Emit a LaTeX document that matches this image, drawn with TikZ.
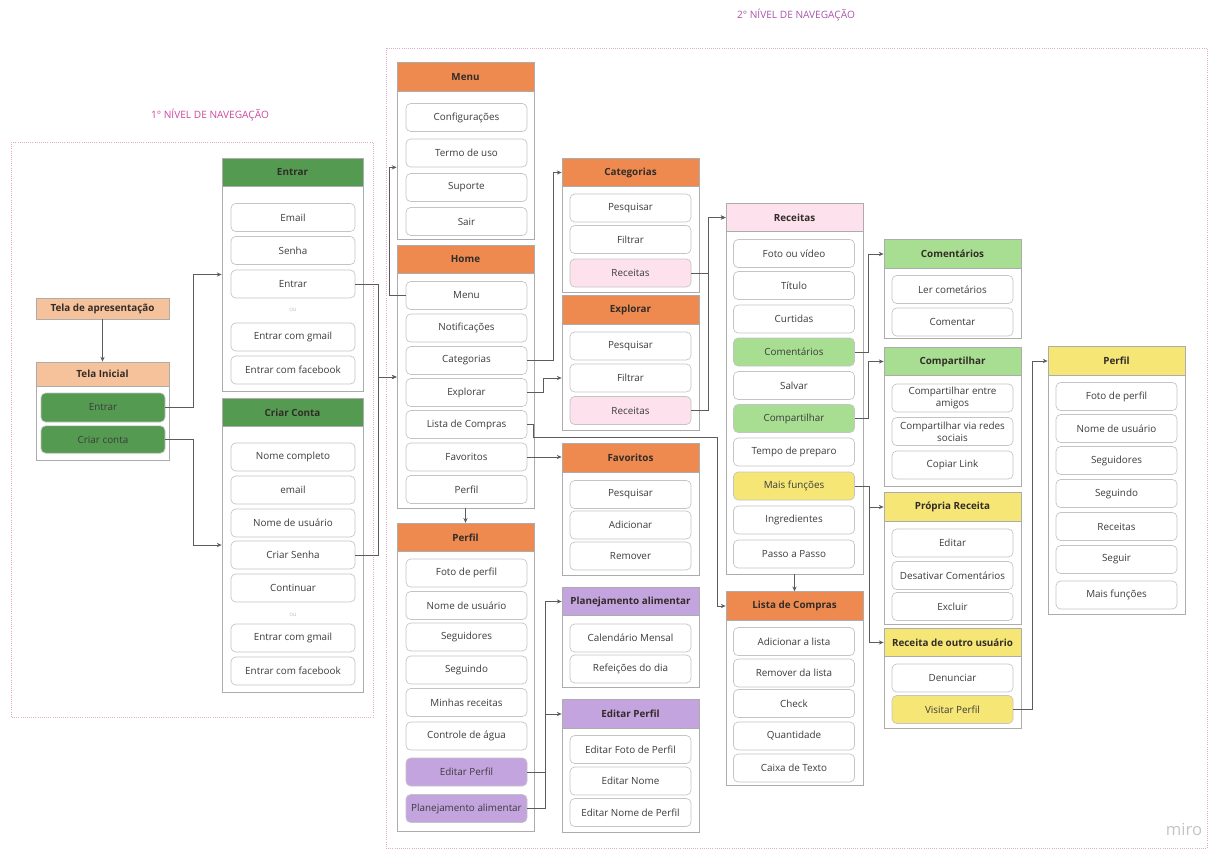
\documentclass[tikz,border=0pt]{standalone}
\usepackage{fontspec}
\setmainfont{Open Sans}
\usetikzlibrary{arrows.meta,fit}

\definecolor{hdorange}{RGB}{238,138,80}
\definecolor{hdgreen}{RGB}{84,154,80}
\definecolor{hdpeach}{RGB}{245,194,156}
\definecolor{hdpink}{RGB}{253,225,236}
\definecolor{hdlime}{RGB}{168,222,146}
\definecolor{hdyellow}{RGB}{246,230,117}
\definecolor{hdpurple}{RGB}{196,164,222}
\definecolor{cardgray}{RGB}{172,172,172}
\definecolor{itemgray}{RGB}{196,196,196}
\definecolor{linkgray}{RGB}{92,92,92}
\definecolor{itemtxt}{RGB}{60,60,60}
\definecolor{headtxt}{RGB}{50,44,40}
\definecolor{framepink}{RGB}{226,170,206}
\definecolor{navpink}{RGB}{204,70,155}
\definecolor{navpurple}{RGB}{168,84,170}
\definecolor{mirogray}{RGB}{196,196,196}

\begin{document}
\begin{tikzpicture}[x=0.75pt,y=-0.75pt,
  font=\fontsize{7.4}{8.8}\selectfont,
  navframe/.style={draw=framepink, densely dotted, line width=0.6pt},
  navtitle/.style={font=\fontsize{7.6}{9}\selectfont},
  card/.style={draw=cardgray, fill=white, inner sep=0pt, line width=0.6pt},
  head/.style={draw=cardgray, line width=0.6pt, minimum width=102.75pt, minimum height=21.5pt, inner sep=0pt, text=headtxt, font=\fontsize{7.4}{8.8}\selectfont\bfseries},
  item/.style={draw=itemgray, fill=white, rounded corners=3.5pt, line width=0.5pt, minimum width=90.75pt, minimum height=21pt, inner sep=0pt, align=center, text=itemtxt},
  wideitem/.style={item, minimum width=93pt},
  orlabel/.style={text=itemgray, font=\fontsize{4.6}{5}\selectfont},
  link/.style={draw=linkgray, line width=0.6pt, -{Stealth[length=3.6pt,width=3.2pt]}},
]
\useasboundingbox (0,0) rectangle (1212,850);

% 1o nivel
\draw[navframe] (11,142) rectangle (373,717);
\node[navtitle, text=navpink] (nav1) at (210,115) {1° NÍVEL DE NAVEGAÇÃO};

\node[head, fill=hdpeach, minimum width=99.75pt, minimum height=15.75pt] (apres) at (102.5,308.5) {Tela de apresentação};

\node[card, fit={(36,362)(169,460)}] (iniC) {};
\node[head, fill=hdpeach, minimum width=99.75pt, minimum height=18pt] (iniH) at (102.5,374) {Tela Inicial};
\node[wideitem, fill=hdgreen, minimum height=21.75pt] (iniE) at (103,407.5) {Entrar};
\node[wideitem, fill=hdgreen, minimum height=20.5pt] (iniK) at (103,439.5) {Criar conta};

\node[card, fit={(222,158)(363,391)}] (entC) {};
\node[head, fill=hdgreen, minimum width=105.75pt] (entH) at (292.5,172.5) {Entrar};
\node[wideitem] (ent1) at (293,217.5) {Email};
\node[wideitem] (ent2) at (293,250.5) {Senha};
\node[wideitem] (ent3) at (293,284) {Entrar};
\node[orlabel] (entOu) at (293,310) {ou};
\node[wideitem] (ent4) at (293,337) {Entrar com gmail};
\node[wideitem] (ent5) at (293,370) {Entrar com facebook};

\node[card, fit={(222,398)(363,692)}] (criC) {};
\node[head, fill=hdgreen, minimum width=105.75pt] (criH) at (292.5,412.5) {Criar Conta};
\node[wideitem] (cri1) at (293,457) {Nome completo};
\node[wideitem] (cri2) at (293,490) {email};
\node[wideitem] (cri3) at (293,523) {Nome de usuário};
\node[wideitem] (cri4) at (293,555) {Criar Senha};
\node[wideitem] (cri5) at (293,588) {Continuar};
\node[orlabel] (criOu) at (293,615) {ou};
\node[wideitem] (cri6) at (293,638) {Entrar com gmail};
\node[wideitem] (cri7) at (293,671) {Entrar com facebook};

% 2o nivel
\draw[navframe] (386,48) rectangle (1207,848);
\node[navtitle, text=navpurple] (nav2) at (796,15) {2° NÍVEL DE NAVEGAÇÃO};

\node[card, fit={(397,62)(534,239)}] (menuC) {};
\node[head, fill=hdorange] (menuH) at (465.5,77) {Menu};
\node[item] (menu1) at (466.5,117.5) {Configurações};
\node[item] (menu2) at (466.5,153) {Termo de uso};
\node[item] (menu3) at (466.5,187.5) {Suporte};
\node[item] (menu4) at (466.5,221.5) {Sair};

\node[card, fit={(397,246)(534,508)}] (homeC) {};
\node[head, fill=hdorange] (homeH) at (465.5,259.5) {Home};
\node[item] (home1) at (466.5,295.5) {Menu};
\node[item] (home2) at (466.5,328) {Notificações};
\node[item] (home3) at (466.5,360.5) {Categorias};
\node[item] (home4) at (466.5,392.5) {Explorar};
\node[item] (home5) at (466.5,424.5) {Lista de Compras};
\node[item] (home6) at (466.5,457) {Favoritos};
\node[item] (home7) at (466.5,489.5) {Perfil};

\node[card, fit={(397,523)(534,831)}] (perC) {};
\node[head, fill=hdorange] (perH) at (465.5,537.5) {Perfil};
\node[item] (per1) at (466.5,573) {Foto de perfil};
\node[item] (per2) at (466.5,605.5) {Nome de usuário};
\node[item] (per3) at (466.5,637) {Seguidores};
\node[item] (per4) at (466.5,670) {Seguindo};
\node[item] (per5) at (466.5,702.5) {Minhas receitas};
\node[item] (per6) at (466.5,736) {Controle de água};
\node[item, fill=hdpurple] (per7) at (466.5,772) {Editar Perfil};
\node[item, fill=hdpurple] (per8) at (466.5,808.5) {Planejamento alimentar};

\node[card, fit={(562,158)(699,292)}] (catC) {};
\node[head, fill=hdorange] (catH) at (630.5,172.5) {Categorias};
\node[item] (cat1) at (630.5,208) {Pesquisar};
\node[item] (cat2) at (630.5,239.5) {Filtrar};
\node[item, fill=hdpink] (cat3) at (630.5,273) {Receitas};

\node[card, fit={(562,296)(699,430)}] (expC) {};
\node[head, fill=hdorange] (expH) at (630.5,310) {Explorar};
\node[item] (exp1) at (630.5,346) {Pesquisar};
\node[item] (exp2) at (630.5,378) {Filtrar};
\node[item, fill=hdpink] (exp3) at (630.5,410.5) {Receitas};

\node[card, fit={(562,444)(699,575)}] (favC) {};
\node[head, fill=hdorange] (favH) at (630.5,458) {Favoritos};
\node[item] (fav1) at (630.5,494.5) {Pesquisar};
\node[item] (fav2) at (630.5,525) {Adicionar};
\node[item] (fav3) at (630.5,556) {Remover};

\node[card, fit={(562,587)(699,687)}] (planC) {};
\node[head, fill=hdpurple] (planH) at (630.5,601.5) {Planejamento alimentar};
\node[item] (plan1) at (630.5,638) {Calendário Mensal};
\node[item] (plan2) at (630.5,669) {Refeições do dia};

\node[card, fit={(562,700)(699,832)}] (edC) {};
\node[head, fill=hdpurple] (edH) at (630.5,714) {Editar Perfil};
\node[item] (ed1) at (630.5,749.5) {Editar Foto de Perfil};
\node[item] (ed2) at (630.5,781) {Editar Nome};
\node[item] (ed3) at (630.5,812.5) {Editar Nome de Perfil};

\node[card, fit={(726,203)(863,574)}] (recC) {};
\node[head, fill=hdpink] (recH) at (794.5,217.5) {Receitas};
\node[item] (rec1) at (794,253.5) {Foto ou vídeo};
\node[item] (rec2) at (794,285.5) {Título};
\node[item] (rec3) at (794,319) {Curtidas};
\node[item, fill=hdlime] (rec4) at (794,352) {Comentários};
\node[item] (rec5) at (794,385.5) {Salvar};
\node[item, fill=hdlime] (rec6) at (794,418.5) {Compartilhar};
\node[item] (rec7) at (794,452) {Tempo de preparo};
\node[item, fill=hdyellow] (rec8) at (794,486) {Mais funções};
\node[item] (rec9) at (794,520) {Ingredientes};
\node[item] (rec10) at (794,554) {Passo a Passo};

\node[card, fit={(726,592)(863,785)}] (lisC) {};
\node[head, fill=hdorange] (lisH) at (794.5,606) {Lista de Compras};
\node[item] (lis1) at (794,641.5) {Adicionar a lista};
\node[item] (lis2) at (794,673) {Remover da lista};
\node[item] (lis3) at (794,703.5) {Check};
\node[item] (lis4) at (794,736) {Quantidade};
\node[item] (lis5) at (794,768) {Caixa de Texto};

\node[card, fit={(884,240)(1021,338)}] (comC) {};
\node[head, fill=hdlime] (comH) at (952.5,254) {Comentários};
\node[item] (com1) at (952.5,289.5) {Ler cometários};
\node[item] (com2) at (952.5,322) {Comentar};

\node[card, fit={(884,348)(1021,486)}] (compC) {};
\node[head, fill=hdlime] (compH) at (952.5,361.5) {Compartilhar};
\node[item] (comp1) at (952.5,398) {Compartilhar entre\\amigos};
\node[item] (comp2) at (952.5,431.5) {Compartilhar via redes\\sociais};
\node[item] (comp3) at (952.5,465) {Copiar Link};

\node[card, fit={(884,493)(1021,624)}] (propC) {};
\node[head, fill=hdyellow] (propH) at (952.5,507) {Própria Receita};
\node[item] (prop1) at (952.5,543) {Editar};
\node[item] (prop2) at (952.5,575.5) {Desativar Comentários};
\node[item] (prop3) at (952.5,606.5) {Excluir};

\node[card, fit={(884,628)(1021,728)}] (outC) {};
\node[head, fill=hdyellow] (outH) at (952.5,642.5) {Receita de outro usuário};
\node[item] (out1) at (952.5,678) {Denunciar};
\node[item, fill=hdyellow] (out2) at (952.5,709.5) {Visitar Perfil};

\node[card, fit={(1048,347)(1185,614)}] (pfC) {};
\node[head, fill=hdyellow] (pfH) at (1116.5,361) {Perfil};
\node[item] (pf1) at (1116.5,396.5) {Foto de perfil};
\node[item] (pf2) at (1116.5,428.5) {Nome de usuário};
\node[item] (pf3) at (1116.5,460.5) {Seguidores};
\node[item] (pf4) at (1116.5,493.5) {Seguindo};
\node[item] (pf5) at (1116.5,526.5) {Receitas};
\node[item] (pf6) at (1116.5,559.5) {Seguir};
\node[item] (pf7) at (1116.5,595) {Mais funções};

\node[text=mirogray, font=\fontsize{12.5}{14}\selectfont] (miro) at (1184,829) {miro};

% ligacoes
\draw[link] (apres.south) -- (iniH.north);
\draw[link] (iniE.east) -- ++(28,0) |- (entC.west);
\draw[link] (iniK.east) -- ++(28,0) |- (criC.west);
\draw[link] (ent3.east) -- ++(23,0) |- (homeC.west);
\draw[link] (cri4.east) -- ++(23,0) |- (homeC.west);
\draw[link] (home1.west) -- ++(-16,0) |- (menuC.west |- menu2.south);
\draw[link] (home3.east) -- ++(26,0) |- (catH.west);
\draw[link] (home4.east) -- ++(16,0) |- (expC.west |- exp2);
\draw[link] (home5.east) -- ++(6,0) -- ++(0,12.5) -| ([xshift=-6pt]lisH.west) -- (lisH.west);
\draw[link] (home6.east) -- (home6.east -| favH.west);
\draw[link] (homeC.south) -- (perH.north);
\draw[link] (per7.east) -- ++(18,0) |- (edH.west);
\draw[link] (per8.east) -- ++(18,0) |- (planH.west);
\draw[link] (cat3.east) -- ++(17,0) |- (recH.west);
\draw[link] (exp3.east) -- ++(17,0) |- (recH.west);
\draw[link] (recC.south) -- (lisH.north);
\draw[link] (rec4.east) -- ++(14,0) |- (comH.west);
\draw[link] (rec6.east) -- ++(14,0) |- (compH.west);
\draw[link] (rec8.east) -- ++(15,0) |- (propH.west);
\draw[link] (rec8.east) -- ++(15,0) |- (outH.west);
\draw[link] (out2.east) -- ++(19,0) |- (pfH.west);
\end{tikzpicture}
\end{document}
